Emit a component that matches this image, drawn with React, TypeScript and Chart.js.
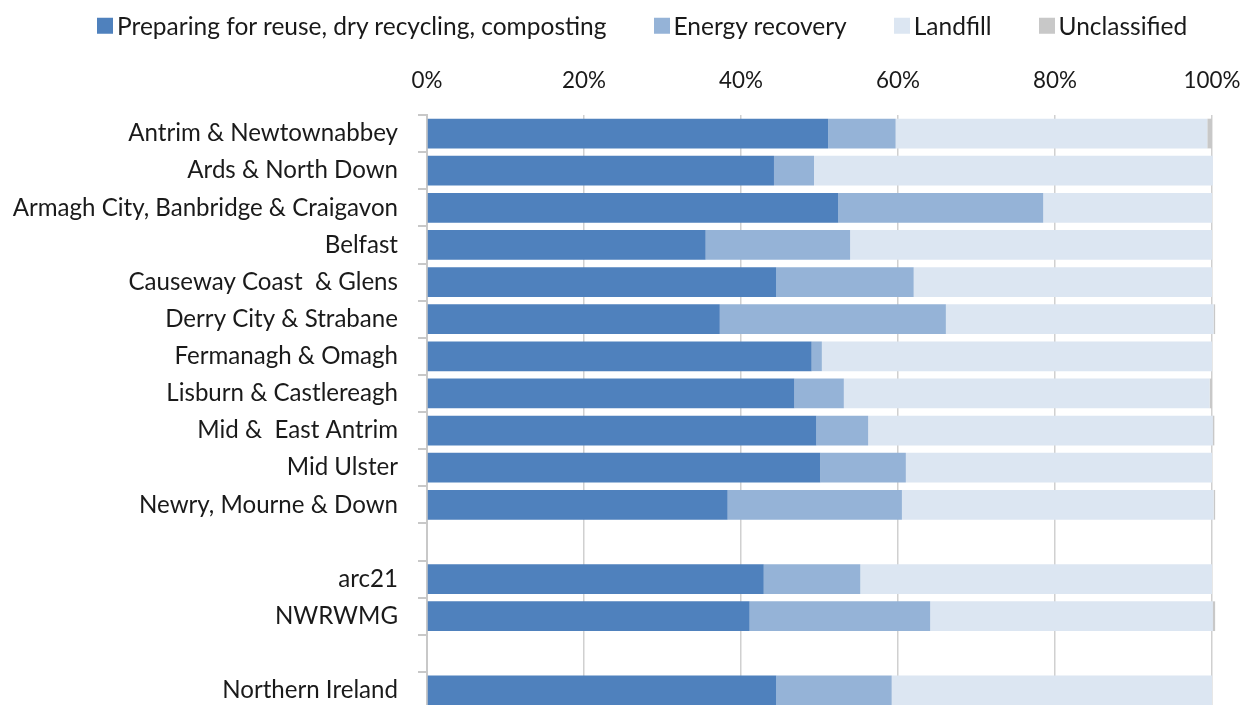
import React, { useEffect, useMemo, useRef } from "react";
import { Chart, registerables } from "chart.js";

Chart.register(...registerables);

const categories: string[] = [
  "Antrim & Newtownabbey",
  "Ards & North Down",
  "Armagh City, Banbridge & Craigavon",
  "Belfast",
  "Causeway Coast  & Glens",
  "Derry City & Strabane",
  "Fermanagh & Omagh",
  "Lisburn & Castlereagh",
  "Mid &  East Antrim",
  "Mid Ulster",
  "Newry, Mourne & Down",
  "",
  "arc21",
  "NWRWMG",
  "",
  "Northern Ireland",
];

const seriesNames: string[] = [
  "Preparing for reuse, dry recycling, composting",
  "Energy recovery",
  "Landfill",
  "Unclassified",
];

const seriesColors: string[] = ["#4F81BD", "#95B3D7", "#DCE6F2", "#C8C8C8"];

const recycling: (number | null)[] = [51.1, 44.2, 52.4, 35.5, 44.5, 37.3, 49.0, 46.8, 49.6, 50.1, 38.3, null, 42.9, 41.1, null, 44.5];
const energyRecovery: (number | null)[] = [8.6, 5.1, 26.1, 18.4, 17.5, 28.8, 1.3, 6.3, 6.6, 10.9, 22.2, null, 12.3, 23.0, null, 14.7];
const landfill: (number | null)[] = [39.7, 50.8, 21.5, 46.1, 38.0, 34.1, 49.7, 46.6, 43.9, 39.0, 39.7, null, 44.8, 36.0, null, 40.8];
const unclassified: (number | null)[] = [0.6, 0, 0, 0, 0, 0.2, 0, 0.3, 0.2, 0, 0.2, null, 0, 0.3, null, 0];

const xTicks: number[] = [0, 20, 40, 60, 80, 100];

const FAMILY = "Lato";
const FONT = "Lato, 'Open Sans', sans-serif";
const TEXT = "#1a1a1a";
const GRID = "#d0d0d0";

// choose a font size so that a sample text has the width seen in the reference
function fitSize(text: string, target: number): number {
  const c = document.createElement("canvas");
  const ctx = c.getContext("2d");
  if (!ctx) return 20;
  ctx.font = `40px ${FAMILY}`;
  const w = ctx.measureText(text).width;
  return Math.round(((40 * target) / w) * 10) / 10;
}

export default function App() {
  const ref = useRef<HTMLCanvasElement | null>(null);

  const sizes = useMemo(
    () => ({
      y: fitSize("Armagh City, Banbridge & Craigavon", 386),
      legend: fitSize("Preparing for reuse, dry recycling, composting", 491),
      x: fitSize("20%", 44),
    }),
    []
  );

  useEffect(() => {
    if (!ref.current) return;
    const seriesData = [recycling, energyRecovery, landfill, unclassified];
    const xPad = Math.max(0, Math.round(115 - 81 - 0.6 * sizes.x));
    const chart = new Chart(ref.current, {
      type: "bar",
      data: {
        labels: categories,
        datasets: seriesNames.map((name, i) => ({
          label: name,
          data: seriesData[i],
          backgroundColor: seriesColors[i],
          borderWidth: 0,
          barPercentage: 0.8,
          categoryPercentage: 1,
          clip: false as any,
        })),
      },
      options: {
        indexAxis: "y",
        animation: false,
        responsive: false,
        maintainAspectRatio: false,
        layout: { padding: { top: 48, right: 40, bottom: 1, left: 0 } },
        plugins: {
          legend: { display: false },
          tooltip: { enabled: false },
        },
        scales: {
          x: {
            position: "top",
            stacked: true,
            min: 0,
            max: 100,
            afterFit: (s: any) => {
              s.height = 67;
              s.paddingLeft = 0;
              s.paddingRight = 0;
            },
            afterBuildTicks: (s: any) => {
              s.ticks = xTicks.map((v) => ({ value: v }));
            },
            ticks: {
              callback: (v: any) => v + "%",
              color: TEXT,
              font: { family: FONT, size: sizes.x },
              padding: xPad,
              maxRotation: 0,
            },
            grid: {
              color: GRID,
              lineWidth: 1.5,
              drawTicks: false,
            },
            border: { display: false },
          },
          y: {
            stacked: true,
            afterFit: (s: any) => {
              s.width = 427;
              s.paddingTop = 0;
              s.paddingBottom = 0;
            },
            ticks: {
              autoSkip: false,
              color: TEXT,
              font: { family: FONT, size: sizes.y },
              padding: 20,
            },
            grid: {
              drawOnChartArea: false,
              drawTicks: true,
              tickLength: 9,
              color: "#c8c8c8",
              lineWidth: 2,
            },
            border: { display: true, color: "#c8c8c8", width: 2 },
          },
        },
      },
    });
    return () => chart.destroy();
  }, [sizes]);

  return (
    <div
      style={{
        position: "fixed",
        left: 0,
        top: 0,
        width: 1252,
        height: 705,
        overflow: "hidden",
        background: "#ffffff",
      }}
    >
      <div
        style={{
          position: "absolute",
          left: 97,
          top: 26,
          transform: "translateY(-50%)",
          display: "flex",
          alignItems: "center",
          gap: 47,
          fontFamily: FONT,
          fontSize: sizes.legend,
          lineHeight: 1,
          color: TEXT,
          whiteSpace: "nowrap",
        }}
      >
        {seriesNames.map((name, i) => (
          <div key={name} style={{ display: "flex", alignItems: "center" }}>
            <span
              style={{
                display: "inline-block",
                width: 16,
                height: 16,
                background: seriesColors[i],
                marginRight: 4,
              }}
            />
            <span>{name}</span>
          </div>
        ))}
      </div>
      <canvas ref={ref} width={1252} height={710} style={{ display: "block" }} />
    </div>
  );
}
